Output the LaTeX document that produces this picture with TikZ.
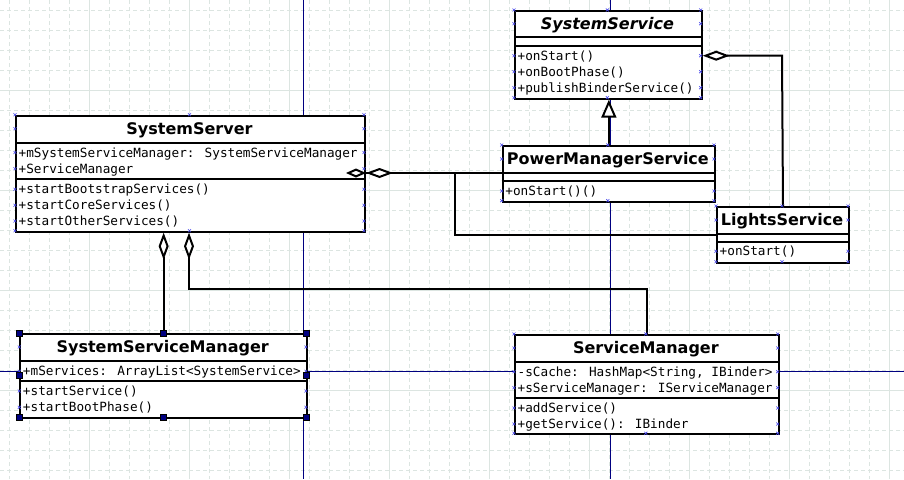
\documentclass[tikz,border=0pt]{standalone}
\usepackage{fontspec}
\setmainfont{DejaVu Sans}
\newfontfamily\monofont{DejaVu Sans Mono}
\usetikzlibrary{arrows.meta}
\definecolor{gridc}{RGB}{220,229,225}
\definecolor{guidec}{RGB}{0,0,128}
\definecolor{cpc}{RGB}{70,70,235}
\tikzset{
  gridminor/.style={draw=gridc, line width=0.9pt, dash pattern=on 4pt off 3pt},
  gridmajor/.style={draw=gridc, line width=0.9pt},
  guideline/.style={draw=guidec, line width=1pt},
  classbox/.style={draw=black, fill=white, line width=2pt, inner sep=0pt, anchor=north west},
  sepline/.style={line width=2pt},
  ctitle/.style={font=\fontsize{16}{16}\selectfont\bfseries, inner sep=0pt, anchor=base},
  member/.style={font=\monofont\fontsize{12.7}{12.7}\selectfont, inner sep=0pt, anchor=base west},
  conn/.style={line width=2pt},
  aggr/.style={conn, -{Diamond[length=27pt,width=10pt,fill=white]}},
  aggrs/.style={conn, -{Diamond[length=20pt,width=9pt,fill=white]}},
  gen/.style={conn, -{Triangle[length=18pt,width=15pt,fill=white]}},
  cpx/.style={draw=cpc, line width=0.6pt},
  handle/.style={fill=guidec, draw=black, line width=0.4pt, minimum size=6pt, inner sep=0pt},
}
% name, x1, y1, x2, y2, sep1, sep2
\newcommand\umlclass[7]{%
  \node[classbox, minimum width={#4-#2}, minimum height={#5-#3}] (#1) at (#2,#3) {};
  \draw[sepline] (#2,#6) -- (#4,#6);
  \draw[sepline] (#2,#7) -- (#4,#7);
}
% connection points: x1, y1, x2, y2, rows
\newcommand\cpts[5]{%
  \foreach \yy in {#2,#4,#5} {
    \draw[cpx] ({#1-1.5},{\yy-1.5}) -- ({#1+1.5},{\yy+1.5}) ({#1-1.5},{\yy+1.5}) -- ({#1+1.5},{\yy-1.5});
    \draw[cpx] ({#3-1.5},{\yy-1.5}) -- ({#3+1.5},{\yy+1.5}) ({#3-1.5},{\yy+1.5}) -- ({#3+1.5},{\yy-1.5});
  }
  \foreach \yy in {#2,#4} {
    \draw[cpx] ({(#1+#3)/2-1.5},{\yy-1.5}) -- ({(#1+#3)/2+1.5},{\yy+1.5}) ({(#1+#3)/2-1.5},{\yy+1.5}) -- ({(#1+#3)/2+1.5},{\yy-1.5});
  }
}
\begin{document}
\begin{tikzpicture}[x=1pt,y=-1pt]
\useasboundingbox (0,0) rectangle (904,479);
\fill[white] (0,0) rectangle (904,479);
% grid
\foreach \x in {9,29,...,889} \draw[gridminor] (\x,0) -- (\x,479);
\foreach \y in {10,30,...,470} \draw[gridminor] (0,\y) -- (904,\y);
\foreach \x in {89,189,...,889} \draw[gridmajor] (\x,0) -- (\x,479);
\foreach \y in {90,190,...,390} \draw[gridmajor] (0,\y) -- (904,\y);
% guides
\draw[guideline] (303.3,0) -- (303.3,479);
\draw[guideline] (610,0) -- (610,479);
\draw[guideline] (0,371.3) -- (904,371.3);

% classes
\umlclass{ss}{15}{114.7}{364}{230.7}{142.7}{178.7}
\node[ctitle] (ss-t) at (189.5,134.5) {SystemServer};
\node[member] (ss-a1) at (18.5,157) {+mSystemServiceManager: SystemServiceManager};
\node[member] (ss-a2) at (18.5,173.2) {+ServiceManager};
\node[member] (ss-m1) at (18.5,193.8) {+startBootstrapServices()};
\node[member] (ss-m2) at (18.5,209.8) {+startCoreServices()};
\node[member] (ss-m3) at (18.5,225.5) {+startOtherServices()};

\umlclass{sys}{514}{10}{700.7}{97.7}{37.3}{45.7}
\node[ctitle, font=\fontsize{16}{16}\selectfont\bfseries\itshape] (sys-t) at (607.4,29.5) {SystemService};
\node[member] (sys-m1) at (517.5,60.2) {+onStart()};
\node[member] (sys-m2) at (517.5,76.2) {+onBootPhase()};
\node[member] (sys-m3) at (517.5,92.2) {+publishBinderService()};

\umlclass{pms}{501.7}{145}{714}{200.7}{173}{181}
\node[ctitle] (pms-t) at (607.9,164.8) {PowerManagerService};
\node[member] (pms-m1) at (505.2,195.5) {+onStart()()};

\umlclass{ls}{716}{206}{848}{261.7}{234}{242.3}
\node[ctitle] (ls-t) at (782,225.8) {LightsService};
\node[member] (ls-m1) at (719.5,255.8) {+onStart()};

\umlclass{ssm}{19.3}{333.3}{306}{417}{361}{380.7}
\node[ctitle] (ssm-t) at (162.7,352.8) {SystemServiceManager};
\node[member] (ssm-a1) at (22.8,375.8) {+mServices: ArrayList<SystemService>};
\node[member] (ssm-m1) at (22.8,395.2) {+startService()};
\node[member] (ssm-m2) at (22.8,411.8) {+startBootPhase()};

\umlclass{sm}{514}{334}{777.7}{433.3}{362}{398.3}
\node[ctitle] (sm-t) at (645.9,353.8) {ServiceManager};
\node[member] (sm-a1) at (517.5,376.2) {-sCache: HashMap<String, IBinder>};
\node[member] (sm-a2) at (517.5,392.2) {+sServiceManager: IServiceManager};
\node[member] (sm-m1) at (517.5,412.5) {+addService()};
\node[member] (sm-m2) at (517.5,428.5) {+getService(): IBinder};

% connectors
\coordinate (j2) at (189,289);
\coordinate (j4) at (455,173);
\coordinate (j5) at (782,55.7);
\draw[aggr] (ssm.north) -- (ssm.north |- ss.south);
\draw[aggr] (sm.north) |- (j2) -- (j2 |- ss.south);
\draw[aggrs] (ls.west) -| (j4) -- ([xshift=-20pt]j4 -| ss.east);
\draw[aggr] (pms.west |- j4) -- (j4 -| ss.east);
\draw[aggr] (ls.north) -- (j5) -- (j5 -| sys.east);
\draw[gen] (pms.north) -- (pms.north |- sys.south);

% connection points
\cpts{15}{114.7}{364}{230.7}{128.7,152.5,168.7,189.3,205.3,221}
\cpts{514}{10}{700.7}{97.7}{23.7,55.7,71.7,87.7}
\cpts{501.7}{145}{714}{200.7}{159,191}
\cpts{716}{206}{848}{261.7}{220,251.3}
\cpts{19.3}{333.3}{306}{417}{347,371.3,391,407.3}
\cpts{514}{334}{777.7}{433.3}{348,371.7,387.7,408,424}

% selection handles
\foreach \hx/\hy [count=\i] in {19.3/333.3,162.7/333.3,306/333.3,19.3/375.2,306/375.2,19.3/417,162.7/417,306/417}
  \node[handle] (h\i) at (\hx,\hy) {};
\end{tikzpicture}
\end{document}
